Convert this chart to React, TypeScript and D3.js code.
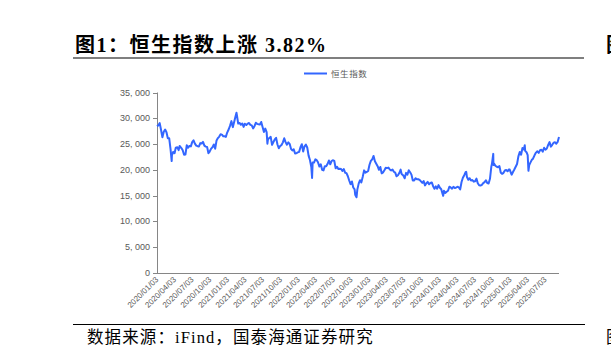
import React from "react";
import * as d3 from "d3";

const d2020 = ["01/03","01/10","01/17","01/23","01/31","02/07","02/14","02/21","02/28","03/06","03/13","03/19","03/20","03/27","04/03","04/09","04/17","04/24","04/29","05/08","05/15","05/22","05/29","06/05","06/12","06/19","06/26","07/03","07/10","07/17","07/24","07/31","08/07","08/14","08/21","08/28","09/04","09/11","09/18","09/25","09/30","10/09","10/16","10/23","10/30","11/06","11/13","11/20","11/27","12/04","12/11","12/18","12/24","12/31"];
const v2020 = [28452,28638,29056,27910,26313,27404,27815,27308,26130,26146,24033,21709,22805,23484,23236,24300,24380,23831,24643,24230,23797,22930,22961,24770,24301,24644,24549,25373,25727,25089,24705,24595,24531,25183,25113,25422,24695,24503,24455,23235,23459,24119,24387,24918,24107,25712,26157,26451,26894,26836,26506,26498,26387,27231];

const d2021 = ["01/08","01/15","01/22","01/29","02/05","02/10","02/17","02/19","02/26","03/05","03/12","03/19","03/26","04/01","04/09","04/16","04/23","04/30","05/07","05/14","05/21","05/28","06/04","06/11","06/18","06/25","07/02","07/09","07/16","07/23","07/27","07/30","08/06","08/13","08/20","08/27","09/03","09/10","09/17","09/24","09/30","10/08","10/15","10/22","10/29","11/05","11/12","11/19","11/26","12/03","12/10","12/17","12/24","12/31"];
const v2021 = [27878,28573,29447,28284,29289,30038,31084,30644,28980,29098,28739,28990,28336,28939,28698,28970,29078,28725,28610,28027,28458,29124,28918,28842,28801,29288,28310,27344,28004,27321,25086,25961,26179,26391,24849,25407,25901,26205,24920,24192,24575,24837,25330,26126,25377,24871,25328,25049,24080,23767,23996,23193,23224,23398];

const d2022 = ["01/07","01/14","01/21","01/28","02/04","02/11","02/18","02/25","03/04","03/11","03/15","03/18","03/25","04/01","04/08","04/14","04/22","04/29","05/06","05/13","05/20","05/27","06/02","06/10","06/17","06/24","06/30","07/08","07/15","07/22","07/29","08/05","08/12","08/19","08/26","09/02","09/09","09/16","09/23","09/30","10/07","10/14","10/21","10/24","10/31","11/04","11/11","11/18","11/25","12/02","12/09","12/16","12/23","12/30"];
const v2022 = [23493,24383,24966,23550,24573,24906,24328,22767,21906,20554,18415,21412,21405,22039,21872,21518,20638,21089,20001,19898,20717,20697,21082,21806,21075,21719,21860,21725,20297,20609,20156,20202,20175,19773,20170,19452,19362,18762,17933,17222,17740,16588,16211,15180,14687,16161,17326,17993,17573,18675,19901,19450,19593,19781];

const d2023 = ["01/06","01/13","01/20","01/27","02/03","02/10","02/17","02/24","03/03","03/10","03/17","03/24","03/31","04/06","04/14","04/21","04/28","05/05","05/12","05/19","05/26","06/02","06/09","06/16","06/21","06/30","07/07","07/14","07/21","07/28","08/04","08/11","08/18","08/25","09/01","09/08","09/15","09/22","09/28","10/06","10/13","10/20","10/27","11/03","11/10","11/17","11/24","12/01","12/08","12/15","12/22","12/29"];
const v2023 = [20991,21738,22045,22689,21660,21190,20719,20010,20567,19320,19518,19915,20400,20332,20438,20076,19895,20049,19628,19451,18746,18950,19390,20041,19218,18916,18365,19414,19075,19917,19539,19075,17950,17956,18382,18202,18182,18057,17810,17485,17813,16995,17399,17664,17203,17454,17559,16830,16334,16792,16340,17047];

const d2024 = ["01/05","01/12","01/19","01/22","01/26","02/02","02/09","02/16","02/23","03/01","03/08","03/15","03/22","03/28","04/05","04/12","04/19","04/26","05/03","05/10","05/17","05/20","05/24","05/31","06/07","06/14","06/21","06/28","07/05","07/12","07/19","07/26","08/02","08/09","08/16","08/23","08/30","09/06","09/13","09/20","09/27","09/30","10/07","10/08","10/11","10/18","10/25","11/01","11/08","11/15","11/22","11/29","12/06","12/13","12/20","12/27","12/31"];
const v2024 = [16535,16244,15308,14961,15952,15533,15747,15944,16726,16589,16354,16720,16499,16541,16724,16600,16224,17651,18476,18963,19553,19636,18609,18080,18367,17942,18028,17719,17799,18293,17417,17021,16946,17090,17430,17612,17989,17444,17369,18258,20632,21134,23100,20927,21252,20804,20590,20506,20728,19426,19230,19424,19866,19971,19720,20090,20060];

const d2025 = ["01/03","01/10","01/17","01/24","02/07","02/14","02/21","02/28","03/07","03/14","03/19","03/21","03/28","04/03","04/07","04/11","04/17","04/25","04/30","05/09","05/16","05/23","05/30","06/06","06/13","06/20","06/27","07/04","07/11","07/18","07/25","08/01","08/08","08/15","08/22","08/29","09/05","09/12"];
const v2025 = [19760,19064,19584,20066,21133,22620,23477,22941,24231,23959,24771,23689,23426,22849,19828,20915,21395,21980,22119,22868,23345,23601,23290,23793,23892,23530,24284,23916,24139,24825,25388,24507,24858,25270,25339,25077,25418,26388];

const yTicks = [0, 5000, 10000, 15000, 20000, 25000, 30000, 35000];
const xTickLabels = ["2020/01/03","2020/04/03","2020/07/03","2020/10/03","2021/01/03","2021/04/03","2021/07/03","2021/10/03","2022/01/03","2022/04/03","2022/07/03","2022/10/03","2023/01/03","2023/04/03","2023/07/03","2023/10/03","2024/01/03","2024/04/03","2024/07/03","2024/10/03","2025/01/03","2025/04/03","2025/07/03"];
const seriesName = "恒生指数";
const titleText = "图1：恒生指数上涨 3.82%";
const sourceText = "数据来源：iFind，国泰海通证券研究";

const parse = d3.timeParse("%Y/%m/%d");
const years: [number, string[], number[]][] = [
  [2020, d2020, v2020], [2021, d2021, v2021], [2022, d2022, v2022],
  [2023, d2023, v2023], [2024, d2024, v2024], [2025, d2025, v2025],
];
const data = years.flatMap(([y, ds, vs]) => ds.map((d, i) => ({ date: parse(`${y}/${d}`)!, value: vs[i] })));

export default function App() {
  const left = 157, right = 559, top = 92.5, bottom = 273;
  const x = d3.scaleTime().domain([data[0].date, data[data.length - 1].date]).range([left, right]);
  const y = d3.scaleLinear().domain([0, 35000]).range([bottom, top]);
  const line = d3.line<{ date: Date; value: number }>().x(d => x(d.date)).y(d => y(d.value));
  const fmt = (v: number) => d3.format(",")(v).replace(",", ", ");
  const axisColor = "#868686";
  const labelColor = "#595959";
  const sans = "'Liberation Sans', Arial, 'Noto Sans CJK SC', sans-serif";
  const serif = "'Liberation Serif', 'Times New Roman', 'Noto Sans CJK SC', serif";
  return (
    <svg width={611} height={357} style={{ position: "absolute", left: 0, top: 0, background: "#fff" }}>
      <text x={75} y={52} fontFamily={serif} fontWeight="bold" fontSize={20} letterSpacing={1.5} fill="#000">{titleText}</text>
      <line x1={73} x2={584} y1={58} y2={58} stroke="#7f7f7f" strokeWidth={2} />
      <text x={606} y={52} fontFamily={serif} fontWeight="bold" fontSize={20} fill="#000">图</text>

      {/* legend */}
      <line x1={304} x2={327} y1={73.5} y2={73.5} stroke="#3366FF" strokeWidth={2} />
      <text x={331} y={76.5} fontFamily={sans} fontSize={8.5} letterSpacing={0.6} fill={labelColor}>{seriesName}</text>

      {/* y axis */}
      <line x1={left + 0.5} x2={left + 0.5} y1={top} y2={bottom} stroke={axisColor} strokeWidth={1} />
      {yTicks.map(t => (
        <g key={t}>
          <line x1={left - 4} x2={left} y1={Math.round(y(t)) + 0.5} y2={Math.round(y(t)) + 0.5} stroke={axisColor} />
          <text x={150} y={y(t) + 3} textAnchor="end" fontFamily={sans} fontSize={9} fill={labelColor}>{fmt(t)}</text>
        </g>
      ))}

      {/* x axis */}
      <line x1={left} x2={right} y1={bottom + 0.5} y2={bottom + 0.5} stroke={axisColor} strokeWidth={1} />
      {xTickLabels.map(l => {
        const px = x(parse(l)!);
        return (
          <text key={l} transform={`translate(${px + 2},${bottom + 7}) rotate(-45)`} textAnchor="end" fontFamily={sans} fontSize={8} fill={labelColor}>{l}</text>
        );
      })}

      <path d={line(data) || ""} fill="none" stroke="#3366FF" strokeWidth={2} strokeLinejoin="round" />

      <line x1={73} x2={585} y1={324.5} y2={324.5} stroke="#000" strokeWidth={1} />
      <text x={87} y={343} fontFamily={serif} fontSize={16.5} letterSpacing={1.1} fill="#000">{sourceText}</text>
      <text x={606} y={343} fontFamily={serif} fontSize={16.5} fill="#000">图</text>
    </svg>
  );
}
